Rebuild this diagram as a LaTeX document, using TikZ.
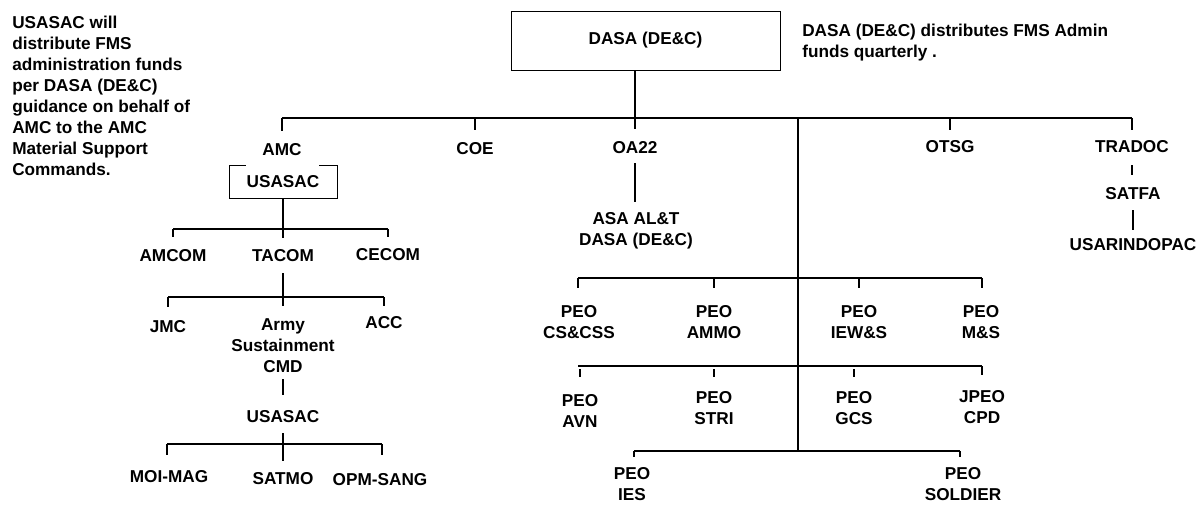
\documentclass[tikz,border=0pt]{standalone}
\usepackage{fontspec}
\setmainfont{Liberation Sans}
\newcommand{\lblfont}{\fontsize{12.9pt}{15.75pt}\selectfont\bfseries}
\begin{document}
\begin{tikzpicture}[x=0.75pt,y=-0.75pt,
  lbl/.style={inner sep=0pt, font=\lblfont, align=center},
  note/.style={inner sep=0pt, font=\lblfont, align=left, anchor=north west},
  boxnode/.style={draw, line width=0.75pt, inner sep=0pt, font=\lblfont},
  bar/.style={line width=1.5pt},
  rowbar/.style={line width=1.1pt},
  tk/.style={line width=1.5pt},
  thinln/.style={line width=0.9pt},
  thk/.style={line width=2.2pt},
  stem/.style={line width=1.9pt}]
\useasboundingbox (0,0) rectangle (1201,504);

% notes
\node[note] (noteL) at (12,16) {USASAC will\\distribute FMS\\administration funds\\per DASA (DE\&C)\\guidance on behalf of\\AMC to the AMC\\Material Support\\Commands.};
\node[note] (noteR) at (802,24) {DASA (DE\&C) distributes FMS Admin\\funds quarterly .};

% top
\node[boxnode, minimum width=201.75pt, minimum height=44.25pt] (dasa) at (645.5,40.5) {DASA (DE\&C)};
\coordinate (topL) at (282,118);
\coordinate (topR) at (1132,118);
\coordinate (spineB) at (798,452);

% second level labels
\node[boxnode, minimum width=81pt, minimum height=24.75pt] (usasac) at (283,181.5) {USASAC};
\node[lbl, fill=white, minimum width=54.75pt, inner ysep=7.5pt] (amc) at (282,150) {AMC};
\node[lbl] (coe) at (475,149) {COE};
\node[lbl] (oa22) at (635,148) {OA22};
\node[lbl] (otsg) at (950,147) {OTSG};
\node[lbl] (tradoc) at (1132,147) {TRADOC};
\node[lbl] (satfa) at (1133,194) {SATFA};
\node[lbl] (indopac) at (1133,245) {USARINDOPAC};

\draw[bar] (topL) -- (topR);
\draw[tk] (topL) -- ++(0,13);
\draw[tk] (coe |- topL) -- ++(0,12);
\draw[thinln] (dasa.south -| oa22) -- ++(0,58);
\draw[tk] (otsg |- topL) -- ++(0,12);
\draw[tk] (topR) -- ++(0,12);
\draw[thk] (topL -| spineB) -- (spineB);
\draw[stem] (tradoc) ++(0,18) -- ++(0,10);
\draw[stem] (satfa) ++(0,16) -- ++(0,20);

% left tree
\node[lbl] (amcom) at (173,256) {AMCOM};
\node[lbl] (tacom) at (283,256) {TACOM};
\node[lbl] (cecom) at (388,255) {CECOM};
\coordinate (b2L) at (173,229);
\coordinate (b2R) at (388,229);
\draw[rowbar] (b2L) -- (b2R);
\draw[stem] (usasac.south) -- (usasac.south |- 0,238);
\draw[tk] (b2L) -- ++(0,8);
\draw[tk] (b2R) -- ++(0,8);

\node[lbl] (jmc) at (168,327) {JMC};
\node[lbl] (asc) at (283,346) {Army\\Sustainment\\CMD};
\node[lbl] (acc) at (384,323) {ACC};
\coordinate (b3L) at (168,297);
\coordinate (b3R) at (384,297);
\draw[rowbar] (b3L) -- (b3R);
\draw[stem] (tacom) ++(0,17) -- ++(0,33);
\draw[tk] (b3L) -- ++(0,10);
\draw[tk] (b3R) -- ++(0,9);

\node[lbl] (usasac2) at (283,417) {USASAC};
\draw[stem] (asc.south) ++(0,6) -- ++(0,16);

\node[lbl] (moimag) at (169,477) {MOI-MAG};
\node[lbl] (satmo) at (283,479) {SATMO};
\node[lbl] (opm) at (380,480) {OPM-SANG};
\coordinate (b4L) at (167,444);
\coordinate (b4R) at (382,444);
\draw[rowbar] (b4L) -- (b4R);
\draw[stem] (usasac2) ++(0,16) -- ++(0,28);
\draw[tk] (b4L) -- ++(0,11);
\draw[tk] (b4R) -- ++(0,11);

% middle tree
\node[lbl] (asaalt) at (636,231) {ASA AL\&T\\DASA (DE\&C)};
\draw[thinln] (oa22) ++(0,15) -- ++(0,39);

\coordinate (r1L) at (578,278);
\coordinate (r1R) at (982,278);
\node[lbl] (cscss) at (579,322.5) {PEO\\CS\&CSS};
\node[lbl] (ammo) at (714,322.5) {PEO\\AMMO};
\node[lbl] (iews) at (859,322.5) {PEO\\IEW\&S};
\node[lbl] (ms) at (981,322.5) {PEO\\M\&S};
\draw[rowbar] (r1L) -- (r1R);
\draw[tk] (r1L) -- ++(0,10);
\draw[tk] (ammo |- r1L) -- ++(0,10);
\draw[tk] (iews |- r1L) -- ++(0,10);
\draw[tk] (r1R) -- ++(0,10);

\coordinate (r2L) at (578,366);
\coordinate (r2R) at (982,366);
\node[lbl] (avn) at (580,411) {PEO\\AVN};
\node[lbl] (stri) at (714,408.5) {PEO\\STRI};
\node[lbl] (gcs) at (854,408) {PEO\\GCS};
\node[lbl] (cpd) at (982,407.5) {JPEO\\CPD};
\draw[rowbar] (r2L) -- (r2R);
\draw[tk] (avn |- r2L) ++(0,3) -- ++(0,8);
\draw[tk] (stri |- r2L) ++(0,3) -- ++(0,8);
\draw[tk] (gcs |- r2L) ++(0,3) -- ++(0,8);
\draw[tk] (r2R) -- ++(0,9);

\coordinate (r3L) at (634,451);
\coordinate (r3R) at (960,451);
\node[lbl] (ies) at (632,484) {PEO\\IES};
\node[lbl] (soldier) at (963,484) {PEO\\SOLDIER};
\draw[rowbar] (r3L) -- (r3R);
\draw[tk] (r3L) -- ++(0,6);
\draw[tk] (r3R) -- ++(0,6);
\end{tikzpicture}
\end{document}
